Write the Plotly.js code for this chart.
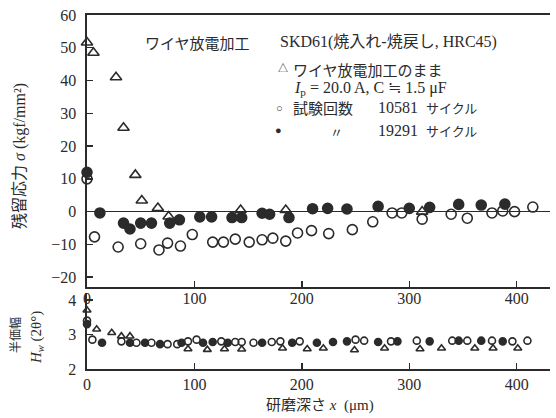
<!DOCTYPE html>
<html>
<head>
<meta charset="utf-8">
<script src="https://cdn.plot.ly/plotly-3.0.1.min.js"></script>
<style>
html,body{margin:0;padding:0;background:#fff;}
#wrap{position:relative;width:556px;height:418px;}
#chart{width:556px;height:418px;}
.toplab{position:absolute;font-family:'Liberation Serif',serif;font-size:16px;color:#2b2b2b;line-height:17px;transform:translateX(-50%);white-space:nowrap;}
</style>
</head>
<body>
<div id="wrap"><div id="chart"></div></div>
<script>
// ---- Data ----
// Residual stress sigma (kgf/mm^2) vs grinding depth x (um)
const triDepth   = [0, 6, 27, 34, 45, 51, 66, 76, 143, 185, 312];
const triStress  = [51.6, 48.5, 41, 25.6, 11.2, 3.4, 1.1, -1.5, 0.5, 0.5, 0];

const openDepth  = [0, 7, 29, 50, 67, 75, 87, 98, 117, 127, 138, 151, 163, 173, 185, 196, 209, 225, 247, 266, 284, 293, 312, 339, 354, 377, 387, 398, 415];
const openStress = [10, -7.7, -10.8, -9.8, -11.7, -9.6, -10.5, -7, -9.3, -9.3, -8.4, -9.3, -8.6, -8.1, -9, -6.5, -5.8, -6.7, -5.5, -3.1, -0.4, -0.4, -2.3, -0.8, -2, -0.4, 0.2, 0, 1.4];

const fillDepth  = [0, 12, 34, 40, 50, 60, 77, 86, 105, 116, 135, 144, 163, 170, 188, 210, 224, 242, 271, 300, 319, 346, 367, 389];
const fillStress = [12, -0.4, -3.5, -5.3, -3.5, -3.5, -3.5, -2.5, -1.6, -1.6, -1.8, -1.8, -0.5, -0.8, -1.8, 0.9, 1.0, 0.8, 1.6, 1.0, 1.3, 2.2, 2.0, 2.3];

// Half-value width Hw (2theta deg) vs depth
const triDepthW  = [0, 9, 23, 32, 40, 94, 112, 128, 144, 182, 205, 220, 249, 277, 310, 330, 361, 378, 401];
const triWidth   = [3.7, 3.15, 3.05, 2.95, 2.95, 2.58, 2.56, 2.58, 2.57, 2.6, 2.58, 2.6, 2.55, 2.6, 2.58, 2.6, 2.6, 2.6, 2.6];

const openDepthW = [0, 5, 32, 46, 60, 75, 84, 94, 102, 125, 138, 144, 155, 172, 180, 198, 250, 258, 283, 307, 340, 354, 377, 396, 410];
const openWidth  = [3.4, 2.85, 2.8, 2.76, 2.76, 2.72, 2.72, 2.8, 2.85, 2.8, 2.78, 2.78, 2.76, 2.78, 2.8, 2.8, 2.85, 2.82, 2.8, 2.82, 2.82, 2.82, 2.82, 2.8, 2.82];

const fillDepthW = [0, 14, 40, 54, 68, 88, 108, 117, 131, 163, 191, 214, 229, 242, 271, 289, 319, 346, 367, 387];
const fillWidth  = [3.3, 2.76, 2.76, 2.76, 2.72, 2.76, 2.76, 2.78, 2.76, 2.76, 2.76, 2.76, 2.78, 2.8, 2.78, 2.8, 2.8, 2.82, 2.82, 2.8];

const depthTicks  = [0, 100, 200, 300, 400];
const stressTicks = [-20, -10, 0, 10, 20, 30, 40, 50, 60];
const stressTickText = ['\u221220', '\u221210', '0', '10', '20', '30', '40', '50', '60'];
const widthTicks  = [2, 3, 4];

// ---- Styling ----
const INK = '#2b2b2b';
const SERIF = 'Liberation Serif, Noto Sans CJK JP, serif';
const JP = 'Noto Sans CJK JP, sans-serif';

function mk(x, y, xa, ya, symbol, size) {
  return {
    x: x, y: y, xaxis: xa, yaxis: ya, type: 'scatter', mode: 'markers',
    cliponaxis: false, showlegend: false, hoverinfo: 'skip',
    marker: { symbol: symbol, size: size, color: INK, line: { color: INK, width: 1.6 } }
  };
}

const data = [
  mk(openDepth, openStress, 'x', 'y', 'circle-open', 10),
  mk(fillDepth, fillStress, 'x', 'y', 'circle', 10),
  mk(triDepth, triStress, 'x', 'y', 'triangle-up-open', 10),
  mk(openDepthW, openWidth, 'x2', 'y2', 'circle-open', 7),
  mk(fillDepthW, fillWidth, 'x2', 'y2', 'circle', 7),
  mk(triDepthW, triWidth, 'x2', 'y2', 'triangle-up-open', 7)
];

// plot area in pixels
const L = 87, R = 550, T = 15, B = 369;
function px(x) { return (x - L) / (R - L); }
function py(y) { return (B - y) / (B - T); }

function ann(text, x, y, opts) {
  return Object.assign({
    text: text, xref: 'paper', yref: 'paper', x: px(x), y: py(y),
    xanchor: 'left', yanchor: 'middle', showarrow: false,
    font: { family: SERIF, size: 15, color: INK }
  }, opts || {});
}

const annotations = [
  ann('ワイヤ放電加工', 143, 42, { font: { family: JP, size: 15, color: INK } }),
  ann('SKD61(焼入れ-焼戻し, HRC45)', 278, 42, { font: { family: SERIF, size: 16, color: INK } }),
  ann('△', 276, 68, { font: { family: SERIF, size: 10, color: INK } }),
  ann('ワイヤ放電加工のまま', 291, 69, { font: { family: JP, size: 15, color: INK } }),
  ann('<i>I</i><sub>p</sub> = 20.0 A, C ≒ 1.5 μF', 292, 89, { font: { family: SERIF, size: 16, color: INK } }),
  ann('○', 274, 108, { font: { family: SERIF, size: 11, color: INK } }),
  ann('試験回数', 291, 108, { font: { family: JP, size: 15, color: INK } }),
  ann('10581', 376, 108, { font: { family: SERIF, size: 16, color: INK } }),
  ann('サイクル', 424, 108, { font: { family: JP, size: 13, color: INK } }),
  ann('●', 273, 130, { font: { family: SERIF, size: 11, color: INK } }),
  ann('〃', 328, 131, { font: { family: JP, size: 13, color: INK } }),
  ann('19291', 376, 130, { font: { family: SERIF, size: 16, color: INK } }),
  ann('サイクル', 424, 130, { font: { family: JP, size: 13, color: INK } }),
  // axis titles
  ann('残留応力 <i>σ</i> (kgf/mm²)', 20, 156, { xanchor: 'center', textangle: -90, font: { family: SERIF, size: 16, color: INK } }),
  ann('半価幅', 14, 335, { xanchor: 'center', textangle: -90, font: { family: JP, size: 12, color: INK } }),
  ann('<i>H</i><sub><i>w</i></sub> (2θ°)', 37, 338, { xanchor: 'center', textangle: -90, font: { family: SERIF, size: 15, color: INK } }),
  ann('研磨深さ <i>x</i>  (μm)', 320, 405, { xanchor: 'center', font: { family: SERIF, size: 15, color: INK } })
];

const axisCommon = {
  showgrid: false, showline: true, linecolor: INK, linewidth: 1.6,
  ticks: 'inside', ticklen: 6, tickwidth: 1.4, tickcolor: INK,
  tickfont: { family: SERIF, size: 16, color: INK }, fixedrange: true
};

const layout = {
  width: 556, height: 418,
  margin: { l: L, r: 556 - R, t: T, b: 418 - B, pad: 0 },
  paper_bgcolor: '#ffffff', plot_bgcolor: 'rgba(0,0,0,0)',
  showlegend: false,
  xaxis: Object.assign({}, axisCommon, {
    domain: [0, 1], range: [0, 431], anchor: 'y', tickvals: depthTicks,
    mirror: true, zeroline: false, showticklabels: false
  }),
  yaxis: Object.assign({}, axisCommon, {
    domain: [(B - 287) / (B - T), 1], range: [-23, 60], anchor: 'x',
    tickvals: stressTicks, ticktext: stressTickText, ticklabelstandoff: 6,
    zeroline: true, zerolinecolor: INK, zerolinewidth: 1.3
  }),
  xaxis2: Object.assign({}, axisCommon, {
    domain: [0, 1], range: [0, 431], anchor: 'y2', tickvals: depthTicks, zeroline: false
  }),
  yaxis2: Object.assign({}, axisCommon, {
    domain: [0, (B - 293) / (B - T)], range: [2, 4.2], anchor: 'x2',
    tickvals: widthTicks, ticklabelstandoff: 6, zeroline: false
  }),
  annotations: annotations
};

Plotly.newPlot('chart', data, layout, { displayModeBar: false, staticPlot: true }).then(function (gd) {
  // tick labels of the upper panel's depth axis, placed with the library's own x scale
  const xa = gd._fullLayout.xaxis;
  const ya = gd._fullLayout.yaxis;
  const top = ya._offset + ya._length + 3;
  const wrap = document.getElementById('wrap');
  depthTicks.forEach(function (t) {
    const d = document.createElement('div');
    d.className = 'toplab';
    d.textContent = String(t);
    d.style.left = (xa._offset + xa.l2p(t)) + 'px';
    d.style.top = top + 'px';
    wrap.appendChild(d);
  });
});
</script>
</body>
</html>
